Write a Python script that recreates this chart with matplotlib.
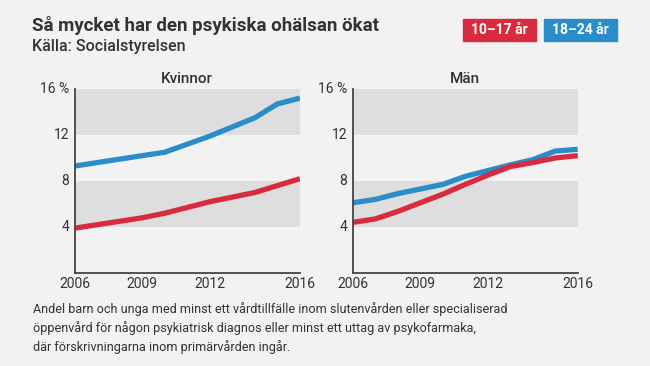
import matplotlib
matplotlib.use("Agg")
import matplotlib.pyplot as plt
from matplotlib.patches import Rectangle

plt.rcParams['font.family'] = ['Roboto', 'DejaVu Sans']

years = [2006, 2007, 2008, 2009, 2010, 2011, 2012, 2013, 2014, 2015, 2016]
kvinnor_10_17 = [3.9, 4.2, 4.5, 4.8, 5.2, 5.7, 6.2, 6.6, 7.0, 7.6, 8.2]
kvinnor_18_24 = [9.3, 9.6, 9.9, 10.2, 10.5, 11.2, 11.9, 12.7, 13.5, 14.7, 15.2]
man_10_17 = [4.4, 4.7, 5.35, 6.1, 6.85, 7.7, 8.5, 9.25, 9.6, 10.0, 10.2]
man_18_24 = [6.1, 6.4, 6.9, 7.3, 7.7, 8.4, 8.9, 9.4, 9.85, 10.6, 10.75]

panel_titles = ["Kvinnor", "Män"]
series_labels = ["10–17 år", "18–24 år"]
y_ticks = [4, 8, 12, 16]
y_ticklabels = ["4", "8", "12", "16 %"]
x_ticks = [2006, 2009, 2012, 2016]

RED = "#d92b3f"
BLUE = "#2a8cc8"
BG = "#f2f2f2"
BAND = "#dedede"
TXT = "#333333"

fig = plt.figure(figsize=(6.5, 3.66), dpi=100, facecolor=BG)

axes_pos = [[0.1149, 0.254, 0.3466, 0.503], [0.5426, 0.254, 0.3462, 0.503]]
data = [(kvinnor_10_17, kvinnor_18_24), (man_10_17, man_18_24)]

for pos, title, (red_vals, blue_vals) in zip(axes_pos, panel_titles, data):
    ax = fig.add_axes(pos)
    ax.set_facecolor(BG)
    ax.set_xlim(2006, 2016)
    ax.set_ylim(0, 16)
    for lo, hi in [(4, 8), (12, 16)]:
        ax.axhspan(lo, hi, color=BAND, lw=0, zorder=0)
    ax.plot(years, blue_vals, color=BLUE, lw=3.8, solid_capstyle='butt', zorder=3)
    ax.plot(years, red_vals, color=RED, lw=3.8, solid_capstyle='butt', zorder=3)
    for s in ['top', 'right']:
        ax.spines[s].set_visible(False)
    for s in ['left', 'bottom']:
        ax.spines[s].set_color('#444444')
        ax.spines[s].set_linewidth(1.3)
        ax.spines[s].set_zorder(4)
    ax.set_yticks(y_ticks)
    ax.set_yticklabels(y_ticklabels)
    ax.set_xticks(x_ticks)
    ax.set_xticklabels([str(x) for x in x_ticks])
    ax.tick_params(length=0, labelsize=10, colors=TXT, pad=3)
    ax.tick_params(axis='y', pad=4)
    for lab in ax.get_yticklabels():
        lab.set_verticalalignment('center')
    ax.set_title(title, fontsize=11, color=TXT, fontweight='medium', pad=4)

fig.text(0.049, 0.915, "Så mycket har den psykiska ohälsan ökat", fontsize=13.5,
         fontweight='bold', color=TXT, va='baseline')
fig.text(0.049, 0.862, "Källa: Socialstyrelsen", fontsize=11.5,
         fontweight='medium', color=TXT, va='baseline')

# legend boxes
for (x0, x1), lab, col in zip([(462.7, 535.7), (544.0, 617.3)], series_labels, [RED, BLUE]):
    fig.patches.append(Rectangle((x0 / 650, 1 - 41 / 366), (x1 - x0) / 650, 22 / 366,
                                 transform=fig.transFigure, color=col, zorder=1))
    fig.text((x0 + x1) / 2 / 650, 1 - 30.5 / 366, lab, color='white', fontsize=10,
             fontweight='bold', ha='center', va='center')

foot = ("Andel barn och unga med minst ett vårdtillfälle inom slutenvården eller specialiserad\n"
        "öppenvård för någon psykiatrisk diagnos eller minst ett uttag av psykofarmaka,\n"
        "där förskrivningarna inom primärvården ingår.")
fig.text(0.051, 0.175, foot, fontsize=9.1, color=TXT, va='top', linespacing=1.45)

fig.savefig("out.png", dpi=100, facecolor=BG)
